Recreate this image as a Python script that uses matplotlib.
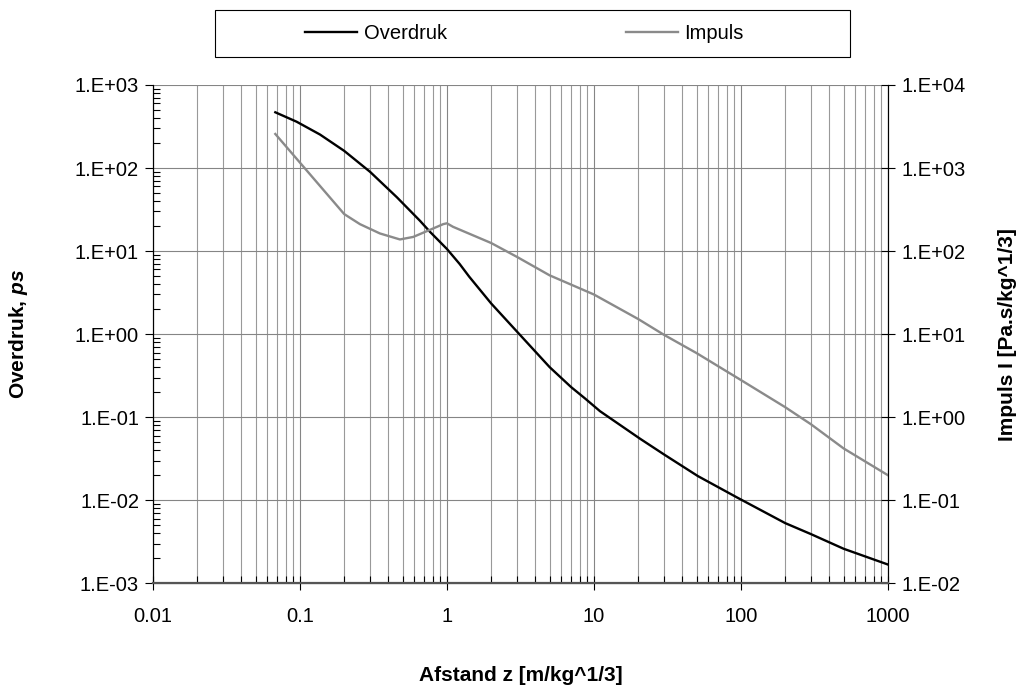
import matplotlib
matplotlib.use('Agg')
import matplotlib.pyplot as plt
from matplotlib.ticker import LogLocator, FuncFormatter, NullFormatter
import numpy as np

plt.rcParams['font.family'] = ['Liberation Sans', 'DejaVu Sans']
plt.rcParams['mathtext.fontset'] = 'custom'
plt.rcParams['mathtext.bfit'] = 'Liberation Sans:italic:bold'

# Overdruk (left axis) vs scaled distance
z_over = [0.068, 0.095, 0.137, 0.2, 0.3, 0.457, 0.655, 0.766, 1.0, 1.22, 1.42,
          2.0, 3.0, 5.0, 7.0, 8.7, 11.0, 20.6, 30.4, 51.0, 94.0, 200.0,
          300.0, 500.0, 1000.0]
overdruk = [469, 361, 253, 161, 90, 44.4, 23.2, 17.1, 10.6, 7.0, 4.9,
            2.34, 1.07, 0.40, 0.23, 0.168, 0.118, 0.055, 0.035, 0.0195, 0.0108, 0.0053,
            0.0039, 0.0026, 0.00168]

# Impuls (right axis)
z_imp = [0.068, 0.2, 0.256, 0.35, 0.479, 0.59, 0.766, 0.944, 1.0, 1.1, 2.0,
         3.0, 5.0, 10.0, 20.0, 30.0, 50.0, 100.0, 200.0, 300.0, 500.0, 1000.0]
impuls = [2570, 279, 211, 163, 138, 148, 180, 211, 216, 196, 125,
          85, 51, 30, 15.2, 9.8, 5.9, 2.8, 1.32, 0.82, 0.42, 0.20]


def sci_fmt(v, pos):
    e = int(round(np.log10(v)))
    return "1.E%s%02d" % ('+' if e >= 0 else '-', abs(e))


fig = plt.figure(figsize=(10.17, 6.91), dpi=100)
ax = fig.add_axes([0.1504, 0.156, 0.7226, 0.721])
ax2 = ax.twinx()

ax.set_xscale('log')
ax.set_yscale('log')
ax2.set_yscale('log')
ax.set_xlim(0.01, 1000)
ax.set_ylim(1e-3, 1e3)
ax2.set_ylim(1e-2, 1e4)

ax.xaxis.set_major_locator(LogLocator(base=10, numticks=10))
ax.xaxis.set_minor_locator(LogLocator(base=10, subs=np.arange(2, 10), numticks=20))
ax.xaxis.set_major_formatter(FuncFormatter(lambda v, p: "%g" % v))
ax.xaxis.set_minor_formatter(NullFormatter())
for a in (ax, ax2):
    a.yaxis.set_major_locator(LogLocator(base=10, numticks=10))
    a.yaxis.set_major_formatter(FuncFormatter(sci_fmt))
    a.yaxis.set_minor_formatter(NullFormatter())
ax.yaxis.set_minor_locator(LogLocator(base=10, subs=np.arange(2, 10), numticks=20))
ax2.yaxis.set_minor_locator(plt.NullLocator())

ax.grid(True, which='major', axis='both', color='#858585', lw=0.8)
ax.grid(True, which='minor', axis='x', color='#999999', lw=0.8)

l1, = ax.plot(z_over, overdruk, color='black', lw=1.7, label='Overdruk')
l2, = ax2.plot(z_imp, impuls, color='#8a8a8a', lw=1.7, label='Impuls')

fs = 14.5
ax.tick_params(axis='x', which='major', direction='inout', length=10, width=0.8,
               labelsize=fs, pad=12)
ax.tick_params(axis='x', which='minor', direction='in', length=5, width=0.8)
ax.tick_params(axis='y', which='major', direction='out', length=6, width=0.8,
               labelsize=fs, pad=4)
ax.tick_params(axis='y', which='minor', direction='in', length=5, width=0.8)
ax2.tick_params(axis='y', which='major', direction='inout', length=10, width=0.8,
                labelsize=fs, pad=5)

for s in ax2.spines.values():
    s.set_linewidth(0.8)
ax2.spines['bottom'].set_color('#555555')
ax2.spines['bottom'].set_linewidth(1.6)
ax2.spines['top'].set_visible(False)
ax.spines['top'].set_visible(False)

ax.set_xlabel('Afstand z [m/kg^1/3]', fontsize=15, fontweight='bold', labelpad=29)
ax.set_ylabel(r'Overdruk, $\mathbfit{ps}$', fontsize=15, fontweight='bold', labelpad=32)
ax2.set_ylabel('Impuls I [Pa.s/kg^1/3]', fontsize=15, fontweight='bold',
               rotation=90, labelpad=23)

leg = fig.legend([l1, l2], ['Overdruk', 'Impuls'], ncol=2, loc='center left',
                 bbox_to_anchor=(0.300, 0.951), fontsize=fs, frameon=False,
                 handlelength=2.6, handletextpad=0.3, columnspacing=8.9,
                 borderaxespad=0, borderpad=0)
# legend frame drawn as a plain box
box = plt.Rectangle((215 / 1017, 1 - 57 / 691), 635 / 1017, 47 / 691,
                    transform=fig.transFigure, fill=False, edgecolor='black', lw=0.8)
fig.patches.append(box)

fig.savefig('out.png', dpi=100)
